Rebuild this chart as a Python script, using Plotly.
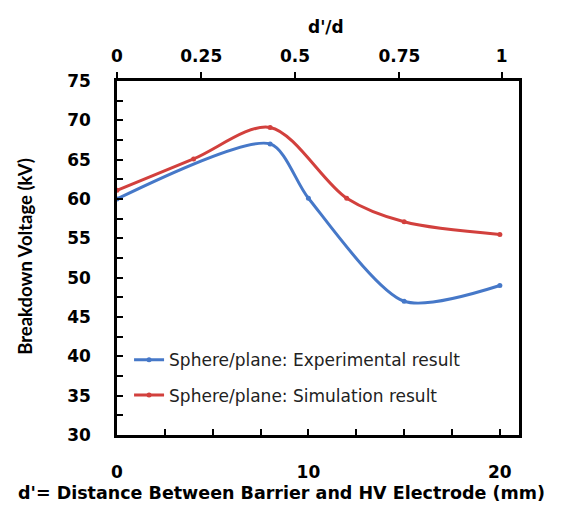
import plotly.graph_objects as go

# distance d' (mm) and breakdown voltage (kV)
exp_x = [0, 8, 10, 15, 20]
exp_y = [60.0, 67.0, 60.1, 47.0, 49.0]
sim_x = [0, 4, 8, 12, 15, 20]
sim_y = [61.1, 65.1, 69.1, 60.1, 57.1, 55.5]

# top axis d'/d
top_vals = [0, 4.4, 9.3, 14.75, 20.1]
top_text = ["0", "0.25", "0.5", "0.75", "1"]

bottom_vals = [0, 10, 20]

blue = "#4678C8"
red = "#D2403D"
font = "'DejaVu Sans', sans-serif"

fig = go.Figure()
fig.add_trace(go.Scatter(x=exp_x, y=exp_y, mode="lines+markers",
                         name="Sphere/plane: Experimental result",
                         line=dict(color=blue, width=3, shape="spline", smoothing=0.75),
                         marker=dict(size=5, color=blue),
                         legendgroup="a"))
fig.add_trace(go.Scatter(x=sim_x, y=sim_y, mode="lines+markers",
                         name="Sphere/plane: Simulation result",
                         line=dict(color=red, width=3, shape="spline", smoothing=0.9),
                         marker=dict(size=5, color=red),
                         legendgroup="b"))
# dummy trace so the top axis is drawn
fig.add_trace(go.Scatter(x=[0], y=[None], xaxis="x2", showlegend=False,
                         hoverinfo="skip"))

# page body has an 8px margin, so the figure is a bit smaller than the window
fig.update_layout(
    width=555, height=502,
    margin=dict(l=109, r=44, t=73, b=75, autoexpand=False),
    plot_bgcolor="white", paper_bgcolor="white",
    font=dict(family=font, color="black"),
    showlegend=True,
    legend=dict(x=0.03, y=0.262, xanchor="left", yanchor="top",
                bgcolor="rgba(0,0,0,0)", font=dict(size=17, color="#222"),
                tracegroupgap=10, traceorder="grouped", itemwidth=30),
    xaxis=dict(range=[0, 21], tickvals=bottom_vals, showgrid=False, zeroline=False,
               showline=True, linecolor="black", linewidth=2.5, automargin=False,
               ticks="inside", ticklen=6, tickwidth=2, tickcolor="black",
               minor=dict(dtick=2.5, ticks="inside", ticklen=6, tickwidth=2,
                          tickcolor="black", showgrid=False),
               tickfont=dict(size=17, weight="bold"), ticklabelstandoff=20),
    xaxis2=dict(range=[0, 21], overlaying="x", side="top", tickvals=top_vals,
                ticktext=top_text, showgrid=False, zeroline=False, automargin=False,
                showline=True, linecolor="black", linewidth=2.5,
                ticks="outside", ticklen=6, tickwidth=2, tickcolor="black",
                tickfont=dict(size=17, weight="bold"), ticklabelstandoff=3),
    yaxis=dict(range=[30, 75], dtick=5, showgrid=False, zeroline=False,
               showline=True, linecolor="black", linewidth=2.5, mirror=True,
               automargin=False,
               ticks="inside", ticklen=6, tickwidth=2, tickcolor="black",
               minor=dict(dtick=2.5, ticks="inside", ticklen=6, tickwidth=2,
                          tickcolor="black", showgrid=False),
               tickfont=dict(size=17, weight="bold"), ticklabelstandoff=20),
    annotations=[
        dict(text="<b>d'= Distance Between Barrier and HV Electrode (mm)</b>",
             xref="paper", yref="paper", x=0.408, y=-0.164, showarrow=False,
             xanchor="center", yanchor="middle", font=dict(size=17.5)),
        dict(text="<b>Breakdown Voltage (kV)</b>", textangle=-90,
             xref="paper", yref="paper", x=-0.229, y=0.506, showarrow=False,
             xanchor="center", yanchor="middle", font=dict(size=18.5, family="Lato")),
        dict(text="<b>d'/d</b>", xref="paper", yref="paper", x=0.52, y=1.153,
             showarrow=False, xanchor="center", yanchor="middle",
             font=dict(size=17)),
    ],
)

fig.write_html("out.html")
